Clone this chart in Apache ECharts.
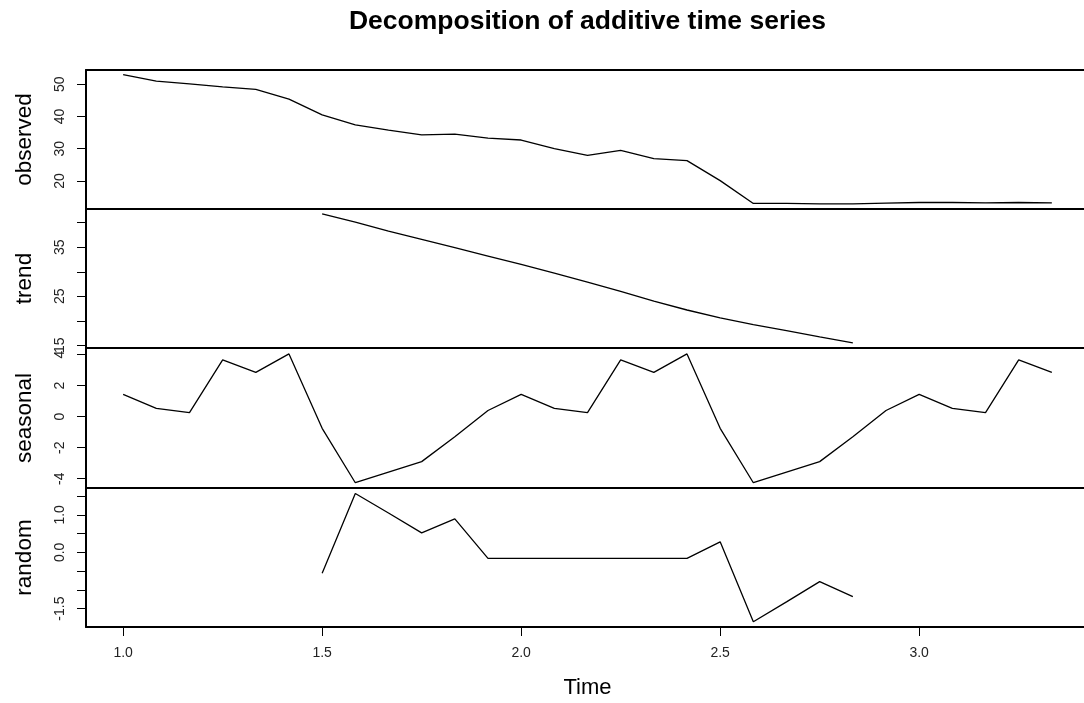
<!DOCTYPE html>
<html>
<head>
<meta charset="utf-8">
<title>Decomposition of additive time series</title>
<script src="https://cdn.jsdelivr.net/npm/echarts@6/dist/echarts.min.js"></script>
<style>
  html, body { margin: 0; padding: 0; background: #fff; }
  #chart { width: 1084px; height: 703px; }
</style>
</head>
<body>
<div id="chart"></div>
<script>
// time index: monthly steps (frequency 12) starting at 1.0
const startTime = 1.0
const freq = 12

const observed = [53.0, 51.0, 50.1, 49.2, 48.4, 45.4, 40.5, 37.4, 35.8, 34.3, 34.5, 33.3,
                  32.7, 30.0, 27.9, 29.5, 26.9, 26.3, 20.1, 13.0, 13.0, 12.9, 12.9, 13.1,
                  13.3, 13.3, 13.2, 13.3, 13.2]
// trend and random start at t = 1.5 (index 6)
const trendOffset = 6
const trend = [41.8, 40.1, 38.3, 36.6, 34.9, 33.2, 31.5, 29.7, 27.9, 26.0, 24.0, 22.2,
               20.6, 19.2, 18.0, 16.7, 15.5]
const seasonal = [1.44, 0.54, 0.26, 3.66, 2.86, 4.05, -0.75, -4.26, -3.57, -2.90, -1.30, 0.40,
                  1.44, 0.54, 0.26, 3.66, 2.86, 4.05, -0.75, -4.26, -3.57, -2.90, -1.30, 0.40,
                  1.44, 0.54, 0.26, 3.66, 2.86]
const random = [-0.56, 1.57, 1.05, 0.52, 0.89, -0.16, -0.16, -0.16, -0.16, -0.16, -0.16, -0.16,
                0.28, -1.85, -1.32, -0.78, -1.18]

const panelNames = ['observed', 'trend', 'seasonal', 'random']
const xTicks = [1.0, 1.5, 2.0, 2.5, 3.0]
const yTicks = [
  [20, 30, 40, 50],
  [15, 20, 25, 30, 35, 40],
  [-4, -2, 0, 2, 4],
  [-1.5, -1.0, -0.5, 0.0, 0.5, 1.0, 1.5]
]
const yTickLabels = [
  [20, 30, 40, 50],
  [15, 25, 35],
  [-4, -2, 0, 2, 4],
  [-1.5, 0.0, 1.0]
]
const yRanges = [[11.28, 54.44], [14.45, 42.8], [-4.6, 4.43], [-1.99, 1.715]]
const xRange = [0.90667, 3.42667]

const font = 'Liberation Sans, Arial, Helvetica, sans-serif'

function toPairs(values, offset) {
  return values.map((v, i) => [startTime + (i + offset) / freq, v])
}

const seriesData = [
  toPairs(observed, 0),
  toPairs(trend, trendOffset),
  toPairs(seasonal, 0),
  toPairs(random, trendOffset)
]

const panelTops = [70, 209, 348, 488]
const panelHeights = [139, 139, 140, 139]
const frameLine = { color: '#000', width: 2 }

const chart = echarts.init(document.getElementById('chart'), null, { renderer: 'canvas' })

// panels run off the right edge of the page, so no right border is drawn:
// the frame is made of axis lines only
const grids = panelTops.map((top, i) => ({
  left: 86,
  width: 1003,
  top: top,
  height: panelHeights[i],
  outerBoundsMode: 'none',
  show: false
}))

const xAxes = panelTops.map((t, i) => {
  const last = i === panelTops.length - 1
  return {
    type: 'value',
    gridIndex: i,
    position: 'bottom',
    min: xRange[0],
    max: xRange[1],
    splitLine: { show: false },
    axisLine: { show: true, onZero: false, lineStyle: frameLine },
    axisTick: {
      show: last,
      length: 9,
      lineStyle: { color: '#000', width: 1 },
      customValues: xTicks
    },
    axisLabel: {
      show: last,
      margin: 19,
      fontSize: 14,
      color: '#222',
      fontFamily: font,
      customValues: xTicks,
      formatter: v => v.toFixed(1)
    },
    name: last ? 'Time' : '',
    nameLocation: 'middle',
    nameGap: 50,
    nameTextStyle: { fontSize: 22, color: '#000', fontFamily: font }
  }
})
// top edge of the first panel
xAxes.push({
  type: 'value',
  gridIndex: 0,
  position: 'top',
  min: xRange[0],
  max: xRange[1],
  splitLine: { show: false },
  axisLine: { show: true, onZero: false, lineStyle: frameLine },
  axisTick: { show: false },
  axisLabel: { show: false }
})

const yAxes = panelNames.map((name, i) => ({
  type: 'value',
  gridIndex: i,
  min: yRanges[i][0],
  max: yRanges[i][1],
  splitLine: { show: false },
  axisLine: { show: true, onZero: false, lineStyle: frameLine },
  axisTick: {
    show: true,
    length: 9,
    lineStyle: { color: '#000', width: 1 },
    customValues: yTicks[i]
  },
  axisLabel: {
    rotate: 90,
    margin: 19,
    fontSize: 14,
    color: '#222',
    fontFamily: font,
    customValues: yTickLabels[i],
    formatter: v => (i === 3 ? v.toFixed(1) : String(v))
  },
  name: name,
  nameLocation: 'middle',
  nameRotate: 90,
  nameGap: 50,
  nameTextStyle: { fontSize: 22.5, color: '#000', fontFamily: font }
}))

const series = seriesData.map((data, i) => ({
  name: panelNames[i],
  type: 'line',
  xAxisIndex: i,
  yAxisIndex: i,
  data: data,
  showSymbol: false,
  lineStyle: { color: '#000', width: 1.3 },
  animation: false
}))

chart.setOption({
  backgroundColor: '#fff',
  animation: false,
  title: {
    text: 'Decomposition of additive time series',
    left: 587.5,
    textAlign: 'center',
    top: 8,
    padding: 0,
    textStyle: { fontSize: 26.5, fontWeight: 'bold', color: '#000', fontFamily: font }
  },
  grid: grids,
  xAxis: xAxes,
  yAxis: yAxes,
  series: series
})
</script>
</body>
</html>
